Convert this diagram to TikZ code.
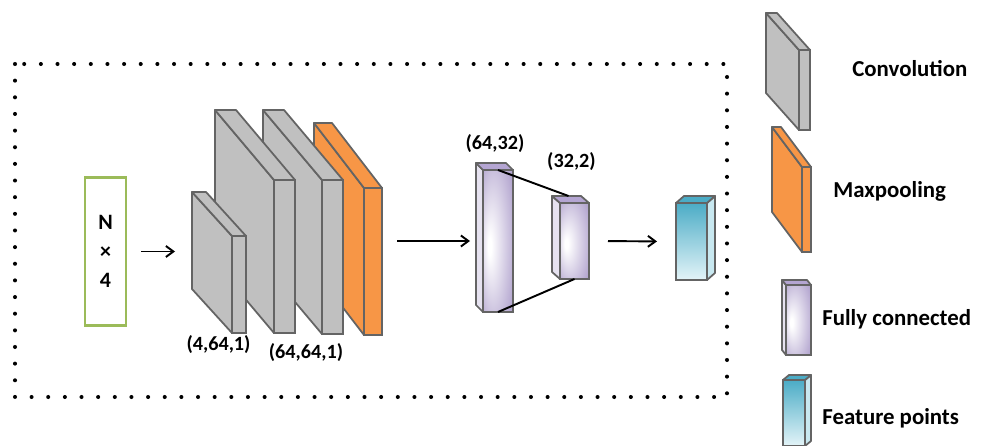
\documentclass[tikz,border=0pt]{standalone}
\usepackage{fontspec}
\setmainfont{Carlito}
\usetikzlibrary{calc, shadings, arrows.meta}
\definecolor{convgray}{RGB}{192,192,192}
\definecolor{edgegray}{RGB}{100,100,100}
\definecolor{poolorange}{RGB}{247,150,70}
\definecolor{ingreen}{RGB}{155,187,89}
\definecolor{fcpurple}{RGB}{168,152,200}
\definecolor{fcside}{RGB}{230,226,240}
\definecolor{fctop}{RGB}{180,165,210}
\definecolor{featteal}{RGB}{75,172,198}
\definecolor{featlight}{RGB}{228,244,248}
\definecolor{featside}{RGB}{200,232,240}
\pgfdeclareradialshading{fcshade}{\pgfpoint{-15bp}{-2bp}}{color(0bp)=(white); color(3bp)=(white); color(40bp)=(fcpurple); color(50bp)=(fcpurple)}
\tikzset{%
  slabfront/.style = {rectangle, draw=edgegray, line width=1pt, inner sep=0pt,
                      outer sep=0pt, anchor=north west},
  face/.style = {draw=edgegray, line width=1pt, line join=round},
  convfront/.style = {fill=convgray},
  poolfront/.style = {fill=poolorange},
  fcfront/.style = {shade, shading=fcshade},
  featfront/.style = {top color=featteal, bottom color=featlight},
  inbox/.style = {rectangle, draw=ingreen, line width=1.7pt, minimum width=0.82cm,
                  minimum height=2.98cm, align=center,
                  font=\fontsize{12.5}{16.5}\selectfont\bfseries},
  dimlabel/.style = {anchor=base, inner sep=0pt, font=\fontsize{11.5}{14}\selectfont\bfseries},
  legendtxt/.style = {anchor=base west, inner sep=0pt, font=\fontsize{13}{16}\selectfont\bfseries},
  arrow/.style = {-{Straight Barb[length=0.15cm, width=0.22cm]}, line width=1.1pt},
  fclink/.style = {line width=1.1pt},
  dotbox/.style = {line width=2.3pt, line cap=round, dash pattern=on 0pt off 0.333cm}
  }

\begin{document}
\begin{tikzpicture}[x=0.02cm, y=-0.02cm]
  \useasboundingbox (0,0) rectangle (988,446);

  % dotted frame round the network
  \draw[dotbox] (15,64) rectangle (727,397);

  \node[inbox] (in) at (105.5,251.5) {N\\×\\4};

  % slabs, drawn back to front
  \foreach \nm/\x/\y/\w/\h/\dx/\dy/\sd/\tp/\fr in {%
      pool/364/188/18/147/50/65/poolorange/poolorange/poolfront,
      c3/322/180/21/154/59/70/convgray/convgray/convfront,
      c2/274/180/21/153/59/70/convgray/convgray/convfront,
      c1/232/236/14/97/40/44/convgray/convgray/convfront,
      fc1/483/170/30/142/7/7/fcside/fctop/fcfront,
      fc2/560/203/29/76/8/7/fcside/fctop/fcfront,
      lconv/799/50/11/80/33/37/convgray/convgray/convfront,
      lpool/802/167/9/85/30/40/poolorange/poolorange/poolfront,
      lfc/786/285/25/70/4/5/fcside/fctop/fcfront}
  {
    \coordinate (\nm-b) at ($(\x,\y)+(-\dx,-\dy)$);
    \filldraw[face, fill=\sd] (\x,\y) -- (\nm-b) -- ++(0,\h) -- ++(\dx,\dy) -- cycle;
    \filldraw[face, fill=\tp] (\x,\y) -- (\nm-b) -- ++(\w,0) -- ++(\dx,\dy) -- cycle;
    \node[slabfront, \fr, minimum width=\w*0.02cm, minimum height=\h*0.02cm] (\nm) at (\x,\y) {};
  }

  % feature blocks, side panel on the right
  \foreach \nm/\x/\y/\w/\h/\dx/\dy in {feat/676/203/31/77/8/7, lfeat/783/380/22/66/6/5}
  {
    \node[slabfront, featfront, minimum width=\w*0.02cm, minimum height=\h*0.02cm] (\nm) at (\x,\y) {};
    \filldraw[face, fill=featside] (\nm.north east) -- ++(\dx,-\dy) -- ++(0,\h) -- (\nm.south east) -- cycle;
    \filldraw[face, fill=featteal] (\nm.north west) -- ++(\dx,-\dy) -- ++(\w,0) -- (\nm.north east) -- cycle;
  }

  \draw[fclink] (fc1.north) -- ($(fc2.north)+(-6,-7)$);
  \draw[fclink] (fc1.south) -- (fc2.south);

  \draw[arrow, shorten <=0.28cm, shorten >=0.34cm] (in.east) -- (in.east -| c1-b);
  \draw[arrow, shorten <=0.3cm, shorten >=0.12cm] (pool.east |- fc1.west) -- (fc1-b |- fc1.west);
  \draw[arrow, shorten <=0.38cm, shorten >=0.38cm] (fc2.east) -- (feat.west);

  \node[dimlabel] (d1) at (218.5,350) {(4,64,1)};
  \node[dimlabel] (d2) at (306,358) {(64,64,1)};
  \node[dimlabel] (d3) at (495,150) {(64,32)};
  \node[dimlabel] (d4) at (571.5,168) {(32,2)};

  % legend
  \node[legendtxt] (tconv) at (852,77) {Convolution};
  \node[legendtxt] (tpool) at (833,197) {Maxpooling};
  \node[legendtxt] (tfc) at (822,325) {Fully connected};
  \node[legendtxt] (tfeat) at (822,424) {Feature points};
\end{tikzpicture}
\end{document}
